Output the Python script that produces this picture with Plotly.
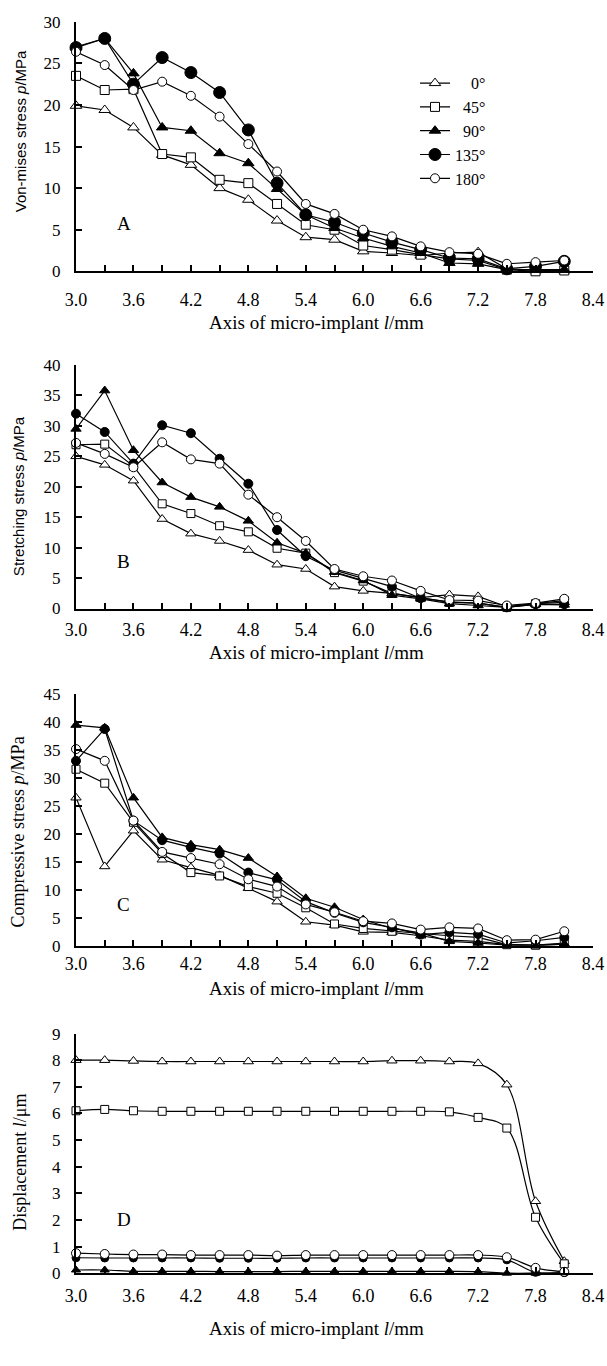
import plotly.graph_objects as go

x_mm = [3.0, 3.3, 3.6, 3.9, 4.2, 4.5, 4.8, 5.1, 5.4, 5.7, 6.0, 6.3, 6.6, 6.9, 7.2, 7.5, 7.8, 8.1]
angles = ["0°", "45°", "90°", "135°", "180°"]
legend_labels = ["\u2007\u20070°", "\u200745°", "\u200790°", "135°", "180°"]

# Panel A: Von-mises stress (MPa)
A_0 = [19.9, 19.4, 17.3, 14.0, 12.8, 10.0, 8.6, 6.1, 4.1, 3.8, 2.4, 2.2, 1.9, 2.2, 2.3, 0.3, 0.1, 0.1]
A_45 = [23.5, 21.8, 21.9, 14.1, 13.7, 11.0, 10.6, 8.1, 5.6, 5.0, 3.1, 2.6, 2.0, 1.5, 1.3, 0.2, 0.0, 0.1]
A_90 = [27.0, 28.0, 23.8, 17.3, 16.9, 14.2, 13.0, 9.9, 6.8, 5.2, 4.0, 3.0, 2.2, 1.0, 0.9, 0.2, 0.2, 0.2]
A_135 = [26.9, 28.0, 22.5, 25.7, 23.9, 21.5, 17.0, 10.6, 6.8, 5.9, 4.6, 3.5, 2.6, 1.6, 1.5, 0.3, 0.6, 1.2]
A_180 = [26.4, 24.8, 21.8, 22.8, 21.1, 18.6, 15.3, 12.0, 8.1, 6.9, 5.0, 4.2, 3.0, 2.3, 2.1, 0.9, 1.1, 1.3]

# Panel B: Stretching stress (MPa)
B_0 = [25.0, 23.6, 21.0, 14.7, 12.3, 11.1, 9.6, 7.2, 6.5, 3.6, 2.9, 2.5, 1.8, 2.3, 2.0, 0.3, 0.8, 1.0]
B_45 = [26.9, 27.0, 23.4, 17.2, 15.6, 13.6, 12.6, 9.9, 9.1, 5.9, 4.5, 2.5, 1.8, 1.0, 0.9, 0.2, 0.8, 1.3]
B_90 = [29.5, 35.8, 26.0, 20.7, 18.3, 16.7, 14.4, 10.8, 9.1, 6.0, 4.6, 2.2, 1.6, 0.8, 0.5, 0.2, 0.7, 0.6]
B_135 = [32.0, 29.0, 23.8, 30.1, 28.8, 24.6, 20.5, 12.9, 8.6, 6.3, 5.0, 3.6, 1.7, 1.1, 0.9, 0.2, 0.7, 0.7]
B_180 = [27.2, 25.4, 23.2, 27.3, 24.5, 23.8, 18.7, 15.0, 11.1, 6.5, 5.3, 4.6, 2.9, 1.4, 1.3, 0.5, 0.9, 1.6]

# Panel C: Compressive stress (MPa)
C_0 = [26.5, 14.2, 20.6, 15.4, 14.0, 12.6, 10.3, 7.9, 4.3, 3.7, 2.5, 2.4, 1.8, 1.0, 0.8, 0.2, 0.1, 0.3]
C_45 = [31.6, 29.1, 22.1, 16.5, 13.1, 12.5, 10.6, 9.4, 6.8, 3.9, 3.1, 2.6, 2.2, 1.8, 1.5, 0.2, 0.1, 0.5]
C_90 = [39.5, 39.0, 26.5, 19.4, 18.1, 17.2, 15.7, 12.4, 8.5, 6.9, 4.7, 3.1, 2.3, 0.8, 0.5, 0.1, 0.0, 0.3]
C_135 = [33.1, 38.8, 22.4, 18.9, 17.6, 16.5, 13.1, 11.8, 7.9, 5.9, 4.2, 3.3, 2.0, 2.4, 2.1, 0.5, 0.9, 1.5]
C_180 = [35.2, 33.1, 22.4, 16.8, 15.7, 14.6, 11.9, 10.6, 7.4, 6.0, 4.4, 4.0, 2.9, 3.3, 3.1, 1.0, 1.1, 2.6]

# Panel D: Displacement (um)
D_0 = [8.0, 8.0, 7.97, 7.95, 7.95, 7.95, 7.95, 7.95, 7.95, 7.95, 7.95, 7.98, 7.98, 7.95, 7.88, 7.08, 2.7, 0.45]
D_45 = [6.1, 6.15, 6.1, 6.08, 6.08, 6.08, 6.08, 6.08, 6.08, 6.08, 6.08, 6.08, 6.08, 6.06, 5.85, 5.45, 2.1, 0.35]
D_90 = [0.12, 0.12, 0.07, 0.07, 0.07, 0.06, 0.06, 0.06, 0.07, 0.07, 0.07, 0.07, 0.07, 0.07, 0.06, 0.0, 0.0, 0.02]
D_135 = [0.58, 0.57, 0.57, 0.57, 0.57, 0.56, 0.56, 0.56, 0.57, 0.57, 0.57, 0.57, 0.57, 0.57, 0.57, 0.5, 0.03, 0.02]
D_180 = [0.75, 0.72, 0.7, 0.7, 0.68, 0.68, 0.68, 0.66, 0.68, 0.68, 0.68, 0.68, 0.68, 0.68, 0.68, 0.6, 0.2, 0.05]

panel_letters = ["A", "B", "C", "D"]
y_titles = ["Von-mises stress <i>p</i>/MPa", "Stretching stress <i>p</i>/MPa",
            "Compressive stress <i>p</i>/MPa", "Displacement <i>l</i>/\u03bcm"]
x_title = "Axis of micro-implant <i>l</i>/mm"
y_max = [30, 40, 45, 9]
y_dtick = [5, 5, 5, 1]
letter_y = [5.8, 7.8, 7.4, 2.0]
x_ticks = [3.0, 3.3, 3.6, 3.9, 4.2, 4.5, 4.8, 5.1, 5.4, 5.7, 6.0, 6.3, 6.6, 6.9, 7.2, 7.5, 7.8, 8.1, 8.4]
x_ticktext = ["3.0", "", "3.6", "", "4.2", "", "4.8", "", "5.4", "", "6.0", "", "6.6", "", "7.2", "", "7.8", "", "8.4"]

panels = [
    [A_0, A_45, A_90, A_135, A_180],
    [B_0, B_45, B_90, B_135, B_180],
    [C_0, C_45, C_90, C_135, C_180],
    [D_0, D_45, D_90, D_135, D_180],
]

H = 1366.0
W = 607.0
L_M, R_M = 76, 14
PW = W - L_M - R_M
# pixel layout of each panel
px_top = [13, 361, 695, 1039]
px_bot = [266, 608, 950, 1282]
xlab_off = [11, 4, 1, 5]           # extra standoff for x tick labels
xtitle_py = [318, 653, 993, 1338]  # centre of x titles (px)
ytitle_px = [20, 18, 18, 20]       # centre of y titles (px)
ytitle_py = [124, 494, 835, 1170]
ytitle_size = [15, 15, 18, 18]

serif = "Liberation Serif, Times New Roman, serif"
sans = "Liberation Sans, Arial, sans-serif"
title_fonts = [sans, sans, serif, serif]

sym = ["triangle-up", "square", "triangle-up", "circle", "circle"]
fill = ["white", "white", "black", "black", "white"]
msize = [
    [10, 9, 10, 12, 9],
    [9, 8, 9, 9, 9],
    [9, 8, 9, 9, 9],
    [9, 8, 8, 8, 9],
]

fig = go.Figure()
for p, series in enumerate(panels):
    xa = "x" if p == 0 else f"x{p+1}"
    ya = "y" if p == 0 else f"y{p+1}"
    for s, vals in enumerate(series):
        fig.add_trace(go.Scatter(
            x=x_mm, y=vals, mode="lines+markers",
            name=legend_labels[s],
            legendgroup=angles[s],
            showlegend=(p == 0),
            line=dict(color="black", width=1.2, shape="spline" if p == 3 else "linear"),
            marker=dict(symbol=sym[s], size=msize[p][s], color=fill[s],
                        line=dict(color="black", width=1)),
            cliponaxis=False,
            xaxis=xa, yaxis=ya,
        ))

layout = dict(
    width=607, height=1366,
    margin=dict(l=L_M, r=R_M, t=0, b=0),
    plot_bgcolor="white", paper_bgcolor="white",
    font=dict(family=serif, size=16, color="black"),
    legend=dict(x=(415 - L_M) / PW, y=1 - 58 / H, xanchor="left", yanchor="top",
                bgcolor="rgba(0,0,0,0)", font=dict(family=serif, size=16),
                itemwidth=30, tracegroupgap=0),
    annotations=[],
)

for p in range(4):
    xk = "xaxis" if p == 0 else f"xaxis{p+1}"
    yk = "yaxis" if p == 0 else f"yaxis{p+1}"
    ya_ref = "y" if p == 0 else f"y{p+1}"
    xa_ref = "x" if p == 0 else f"x{p+1}"
    d0 = 1 - px_bot[p] / H
    d1 = 1 - px_top[p] / H
    layout[xk] = dict(
        domain=[0, 1], range=[3.0, 8.4], anchor=ya_ref,
        tickmode="array", tickvals=x_ticks, ticktext=x_ticktext,
        ticks="inside", ticklen=6, tickwidth=1.5, tickcolor="black",
        showline=True, linecolor="black", linewidth=2, showgrid=False, zeroline=False,
        tickfont=dict(family=serif, size=18), ticklabelstandoff=xlab_off[p],
    )
    layout[yk] = dict(
        domain=[d0, d1], range=[0, y_max[p]], anchor=xa_ref,
        dtick=y_dtick[p], tick0=0,
        ticks="inside", ticklen=6, tickwidth=1.5, tickcolor="black",
        showline=True, linecolor="black", linewidth=2, showgrid=False, zeroline=False,
        tickfont=dict(family=serif, size=17), ticklabelstandoff=10,
    )
    # x-axis title
    layout["annotations"].append(dict(
        x=(316 - L_M) / PW, y=1 - xtitle_py[p] / H, xref="paper", yref="paper",
        text=x_title, showarrow=False, xanchor="center", yanchor="middle",
        font=dict(family=serif, size=19)))
    # y-axis title
    layout["annotations"].append(dict(
        x=(ytitle_px[p] - L_M) / PW, y=1 - ytitle_py[p] / H, xref="paper", yref="paper",
        text=y_titles[p], showarrow=False, xanchor="center", yanchor="middle",
        textangle=-90, font=dict(family=title_fonts[p], size=ytitle_size[p])))
    # panel letter
    layout["annotations"].append(dict(
        x=3.5, y=letter_y[p], xref=xa_ref, yref=ya_ref, text=panel_letters[p],
        showarrow=False, font=dict(family=serif, size=19), xanchor="center", yanchor="middle"))

fig.update_layout(**layout)
fig.write_html("out.html", config={"displayModeBar": False},
               post_script="document.body.style.margin='0';")
